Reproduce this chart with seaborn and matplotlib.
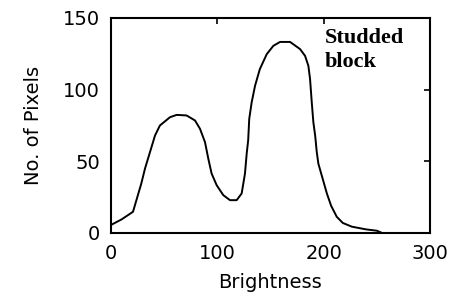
import matplotlib
matplotlib.use("Agg")
import matplotlib.pyplot as plt
import seaborn as sns
import pandas as pd

# histogram of the studded block image
brightness = [0, 10, 20.7, 28.5, 32, 36.7, 41.4, 46, 55.5, 61.8, 71.1, 79, 83.7,
              88.4, 91.5, 94.6, 99.4, 105.6, 111.9, 118.2, 122.9, 126, 127.6, 129,
              130, 132.3, 135.5, 140, 146.5, 152.7, 159, 168.4, 177.8, 182.5, 185.6,
              187.2, 188.8, 190.3, 192, 193.5, 195, 199, 203, 207, 212.3, 218,
              226.5, 240, 250, 255]
pixels = [5.6, 9.5, 14.8, 34.5, 45, 56.5, 68, 75, 80.8, 82.4, 82, 78.5, 72.7,
          63.4, 51.9, 41.5, 33.3, 26.4, 22.9, 22.9, 27.6, 41.5, 55.3, 64.6,
          79.6, 91.2, 102.8, 114.4, 124.8, 130.6, 133.3, 133.3, 128.3, 123.6, 116.7,
          107.4, 91.2, 77.3, 68, 56.5, 48.4, 38, 27.6, 19, 11.3, 7,
          4.4, 2.5, 1.6, 0]

df = pd.DataFrame({"Brightness": brightness, "Pixels": pixels})

sns.set_style("white")
plt.rcParams["font.family"] = ["DejaVu Sans"]
plt.rcParams["text.color"] = "black"
plt.rcParams["axes.labelcolor"] = "black"

fig = plt.figure(figsize=(4.56, 2.95), dpi=100)
ax = fig.add_axes([0.2434, 0.2102, 0.6996, 0.7288])

sns.lineplot(data=df, x="Brightness", y="Pixels", ax=ax, color="black", linewidth=1.4)

ax.set_xlim(0, 300)
ax.set_ylim(0, 150)
ax.set_xticks([0, 100, 200, 300])
ax.set_yticks([0, 50, 100, 150])
ax.tick_params(direction="in", length=4, width=1.2, top=True, right=True,
               labelsize=14, pad=8, colors="black")
for s in ax.spines.values():
    s.set_color("black")
    s.set_linewidth(1.5)

ax.set_xlabel("Brightness", fontsize=14, labelpad=7, color="black")
ax.set_ylabel("No. of Pixels", fontsize=14, labelpad=14, color="black")

ax.text(201, 143, "Studded\nblock", family="Liberation Serif", fontweight="bold",
        fontsize=16, ha="left", va="top", linespacing=1.25, color="black")

fig.savefig("out.png", dpi=100)
